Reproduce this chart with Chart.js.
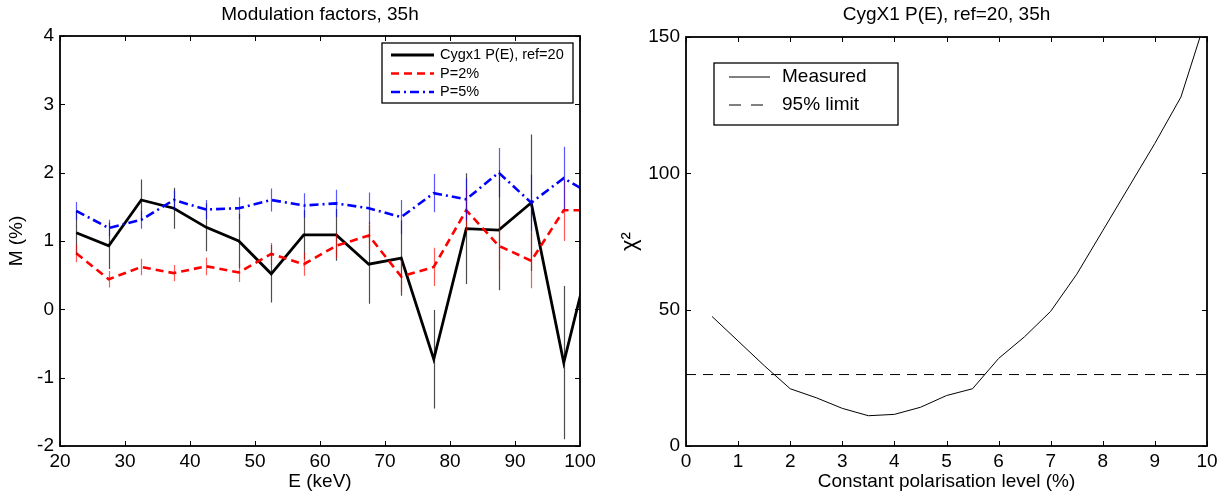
<!DOCTYPE html>
<html>
<head>
<meta charset="utf-8">
<script src="https://cdn.jsdelivr.net/npm/chart.js@4.4.1/dist/chart.umd.min.js"></script>
<style>
  body { margin: 0; background: #fff; width: 1228px; height: 496px; overflow: hidden; position: relative; }
  #modChart { position: absolute; left: 0; top: 0; }
  #chiChart { position: absolute; left: 610px; top: 0; }
</style>
</head>
<body>
<canvas id="modChart" width="600" height="496"></canvas>
<canvas id="chiChart" width="618" height="496"></canvas>
<script>
// ---- left panel: modulation factors ----
var energy = [22.5, 27.5, 32.5, 37.5, 42.5, 47.5, 52.5, 57.5, 62.5, 67.5, 72.5, 77.5, 82.5, 87.5, 92.5, 97.5, 102.5];
var cygM   = [1.12, 0.93, 1.60, 1.48, 1.20, 1.00, 0.52, 1.09, 1.09, 0.66, 0.75, -0.73, 1.18, 1.16, 1.56, -0.78, 1.14];
var cygErr = [0.32, 0.34, 0.30, 0.30, 0.35, 0.40, 0.42, 0.36, 0.38, 0.58, 0.55, 0.72, 0.81, 0.88, 1.00, 1.12, 1.20];
var p2M    = [0.82, 0.44, 0.62, 0.53, 0.63, 0.54, 0.81, 0.66, 0.93, 1.08, 0.48, 0.62, 1.45, 0.93, 0.71, 1.45, 1.45];
var p2Err  = [0.13, 0.12, 0.12, 0.12, 0.13, 0.14, 0.16, 0.17, 0.18, 0.20, 0.23, 0.28, 0.31, 0.36, 0.40, 0.45, 0.50];
var p5M    = [1.44, 1.19, 1.31, 1.60, 1.46, 1.48, 1.60, 1.52, 1.55, 1.48, 1.35, 1.70, 1.61, 2.00, 1.56, 1.92, 1.64];
var p5Err  = [0.13, 0.12, 0.13, 0.14, 0.14, 0.16, 0.17, 0.18, 0.20, 0.23, 0.25, 0.28, 0.31, 0.36, 0.41, 0.46, 0.50];
var energyTicks = [20, 30, 40, 50, 60, 70, 80, 90, 100];
var mTicks = [-2, -1, 0, 1, 2, 3, 4];

// ---- right panel: chi2 vs constant polarisation ----
var polLevel = [0.5, 1, 1.5, 2, 2.5, 3, 3.5, 4, 4.5, 5, 5.5, 6, 6.5, 7, 7.5, 8, 8.5, 9, 9.5, 10];
var chi2     = [47.5, 38.5, 29.5, 21.0, 17.7, 13.8, 11.1, 11.6, 14.2, 18.5, 21.0, 32.1, 40.1, 49.4, 63, 79, 95, 111, 128, 158];
var limit95  = 26.2;
var polTicks = [0, 1, 2, 3, 4, 5, 6, 7, 8, 9, 10];
var chiTicks = [0, 50, 100, 150];

var FONT = '"Liberation Sans", Arial, Helvetica, sans-serif';
var FS = 19;

function pts(xs, ys) {
  return xs.map(function (x, i) { return { x: x, y: ys[i] }; });
}

// matlab style box with inward ticks
const boxPlugin = {
  id: 'box',
  afterDraw(chart) {
    const ctx = chart.ctx, a = chart.chartArea;
    const xs = chart.scales.x, ys = chart.scales.y;
    ctx.save();
    ctx.strokeStyle = '#000';
    ctx.lineWidth = 1;
    ctx.beginPath();
    xs.ticks.forEach(function (t) {
      const px = Math.round(xs.getPixelForValue(t.value)) + 0.5;
      ctx.moveTo(px, a.bottom); ctx.lineTo(px, a.bottom - 5);
      ctx.moveTo(px, a.top); ctx.lineTo(px, a.top + 5);
    });
    ys.ticks.forEach(function (t) {
      const py = Math.round(ys.getPixelForValue(t.value)) + 0.5;
      ctx.moveTo(a.left, py); ctx.lineTo(a.left + 5, py);
      ctx.moveTo(a.right, py); ctx.lineTo(a.right - 5, py);
    });
    ctx.stroke();
    ctx.lineWidth = 1.8;
    ctx.strokeRect(a.left, a.top, a.right - a.left, a.bottom - a.top);
    ctx.restore();
  }
};

// title centred over the plot box (like matlab), not over the whole canvas
const plotTitlePlugin = {
  id: 'plotTitle',
  afterDraw(chart, args, opts) {
    if (!opts.text) return;
    const ctx = chart.ctx, a = chart.chartArea;
    ctx.save();
    ctx.font = FS + 'px ' + FONT;
    ctx.fillStyle = '#000';
    ctx.textAlign = 'center';
    ctx.textBaseline = 'middle';
    ctx.fillText(opts.text, (a.left + a.right) / 2, opts.y);
    ctx.restore();
  }
};

// vertical error bars from dataset.errors
const errorBarPlugin = {
  id: 'errbars',
  afterDatasetsDraw(chart) {
    const ctx = chart.ctx, a = chart.chartArea;
    const xs = chart.scales.x, ys = chart.scales.y;
    ctx.save();
    ctx.beginPath();
    ctx.rect(a.left, a.top, a.right - a.left, a.bottom - a.top);
    ctx.clip();
    chart.data.datasets.forEach(function (ds) {
      if (!ds.errors) return;
      ctx.strokeStyle = ds.errorColor;
      ctx.lineWidth = 1.2;
      ctx.beginPath();
      ds.data.forEach(function (p, i) {
        const px = Math.round(xs.getPixelForValue(p.x)) + 0.5;
        ctx.moveTo(px, ys.getPixelForValue(p.y - ds.errors[i]));
        ctx.lineTo(px, ys.getPixelForValue(p.y + ds.errors[i]));
      });
      ctx.stroke();
    });
    ctx.restore();
  }
};

// legend box drawn inside the plot
const boxLegendPlugin = {
  id: 'boxLegend',
  afterDraw(chart, args, opts) {
    if (!opts.items) return;
    const ctx = chart.ctx;
    ctx.save();
    ctx.fillStyle = '#fff';
    ctx.fillRect(opts.x, opts.y, opts.w, opts.h);
    ctx.strokeStyle = '#000';
    ctx.lineWidth = 1.3;
    ctx.strokeRect(opts.x, opts.y, opts.w, opts.h);
    ctx.font = opts.size + 'px ' + FONT;
    ctx.textBaseline = 'middle';
    opts.items.forEach(function (it, i) {
      const y = opts.y + opts.first + i * opts.step;
      ctx.strokeStyle = it.color;
      ctx.lineWidth = it.width;
      ctx.setLineDash(it.dash);
      ctx.beginPath();
      ctx.moveTo(opts.x + opts.lx0, y);
      ctx.lineTo(opts.x + opts.lx1, y);
      ctx.stroke();
      ctx.setLineDash([]);
      ctx.fillStyle = '#000';
      ctx.fillText(it.label, opts.x + opts.tx, y);
    });
    ctx.restore();
  }
};

function axisX(min, max, tickVals, title) {
  return {
    type: 'linear', min: min, max: max,
    afterBuildTicks: function (s) { s.ticks = tickVals.map(function (v) { return { value: v }; }); },
    afterFit: function (s) { s.height = 50; },
    grid: { display: false, drawTicks: false },
    border: { display: false },
    ticks: { color: '#000', font: { family: FONT, size: FS }, padding: 4, maxRotation: 0, autoSkip: false },
    title: { display: true, text: title, color: '#000', font: { family: FONT, size: FS }, padding: { top: 0, bottom: 3 } }
  };
}

function axisY(min, max, tickVals, title, width, titlePad, titleSize) {
  return {
    type: 'linear', min: min, max: max,
    afterBuildTicks: function (s) { s.ticks = tickVals.map(function (v) { return { value: v }; }); },
    afterFit: function (s) { s.width = width; },
    grid: { display: false, drawTicks: false },
    border: { display: false },
    ticks: { color: '#000', font: { family: FONT, size: FS }, padding: 6, autoSkip: false },
    title: { display: true, text: title, color: '#000', font: { family: FONT, size: titleSize }, padding: { top: titlePad, bottom: 0 } }
  };
}

const modChart = new Chart(document.getElementById('modChart'), {
  type: 'line',
  data: {
    datasets: [
      { label: 'Cygx1 P(E), ref=20', data: pts(energy, cygM), errors: cygErr, errorColor: 'rgba(0,0,0,0.7)',
        borderColor: '#000', borderWidth: 2.8, pointRadius: 0, tension: 0, order: 3 },
      { label: 'P=2%', data: pts(energy, p2M), errors: p2Err, errorColor: 'rgba(255,0,0,0.65)',
        borderColor: '#ff0000', borderWidth: 2.6, borderDash: [8, 5], pointRadius: 0, tension: 0, order: 2 },
      { label: 'P=5%', data: pts(energy, p5M), errors: p5Err, errorColor: 'rgba(0,0,255,0.65)',
        borderColor: '#0000ff', borderWidth: 2.6, borderDash: [9, 4, 2, 4], pointRadius: 0, tension: 0, order: 1 }
    ]
  },
  options: {
    responsive: false,
    animation: false,
    devicePixelRatio: 1,
    layout: { padding: { left: 0, right: 20, top: 36, bottom: 0 } },
    scales: {
      x: axisX(20, 100, energyTicks, 'E (keV)'),
      y: axisY(-2, 4, mTicks, 'M (%)', 60, 5, FS)
    },
    plugins: {
      legend: { display: false },
      tooltip: { enabled: false },
      title: { display: false },
      plotTitle: { text: 'Modulation factors, 35h', y: 15 },
      boxLegend: {
        x: 382, y: 43, w: 191, h: 60, size: 14.5, first: 12, step: 18.5, lx0: 9, lx1: 52, tx: 58,
        items: [
          { label: 'Cygx1 P(E), ref=20', color: '#000', width: 2.8, dash: [] },
          { label: 'P=2%', color: '#ff0000', width: 2.6, dash: [8, 5] },
          { label: 'P=5%', color: '#0000ff', width: 2.6, dash: [9, 4, 2, 4] }
        ]
      }
    }
  },
  plugins: [errorBarPlugin, boxPlugin, boxLegendPlugin, plotTitlePlugin]
});

const chiChart = new Chart(document.getElementById('chiChart'), {
  type: 'line',
  data: {
    datasets: [
      { label: 'Measured', data: pts(polLevel, chi2), borderColor: '#000', borderWidth: 1,
        pointRadius: 0, tension: 0 },
      { label: '95% limit', data: pts([0, 10], [limit95, limit95]), borderColor: '#000', borderWidth: 1,
        borderDash: [10, 7], pointRadius: 0, tension: 0 }
    ]
  },
  options: {
    responsive: false,
    animation: false,
    devicePixelRatio: 1,
    layout: { padding: { left: 0, right: 21, top: 37, bottom: 0 } },
    scales: {
      x: axisX(0, 10, polTicks, 'Constant polarisation level (%)'),
      y: axisY(0, 150, chiTicks, 'χ²', 76, 7, 22)
    },
    plugins: {
      legend: { display: false },
      tooltip: { enabled: false },
      title: { display: false },
      plotTitle: { text: 'CygX1 P(E), ref=20, 35h', y: 15 },
      boxLegend: {
        x: 104, y: 63, w: 184, h: 62, size: FS, first: 14, step: 28, lx0: 15, lx1: 56, tx: 68,
        items: [
          { label: 'Measured', color: '#000', width: 1, dash: [] },
          { label: '95% limit', color: '#000', width: 1, dash: [12, 10] }
        ]
      }
    }
  },
  plugins: [boxPlugin, boxLegendPlugin, plotTitlePlugin]
});
</script>
</body>
</html>
